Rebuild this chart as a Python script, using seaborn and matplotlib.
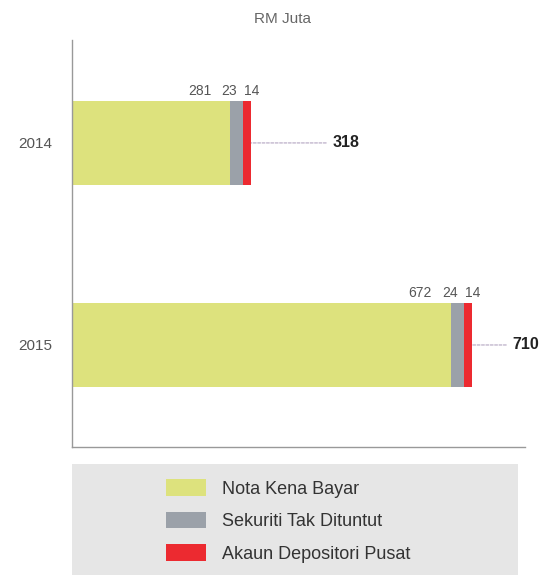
import pandas as pd
import seaborn as sns
from matplotlib import pyplot as plt
from matplotlib.patches import Patch, Rectangle

years = ["2014", "2015"]
nota = [281, 672]
sekuriti = [23, 24]
akaun = [14, 14]
totals = [318, 710]
series_names = ["Nota Kena Bayar", "Sekuriti Tak Dituntut", "Akaun Depositori Pusat"]
colors = ["#dde27d", "#9ba1a9", "#ec2a30"]

sns.set_style("white")
plt.rcParams['font.family'] = ['Liberation Sans', 'DejaVu Sans']

df = pd.DataFrame({'year': years, 'nota': nota, 'sekuriti': sekuriti, 'akaun': akaun})
df['c1'] = df['nota']
df['c2'] = df['nota'] + df['sekuriti']
df['c3'] = df['c2'] + df['akaun']

fig = plt.figure(figsize=(5.41, 5.75), dpi=100)
ax = fig.add_axes([0.133, 0.2226, 0.837, 0.708])

bw = 0.42
# stacked look: draw cumulative totals, biggest first
sns.barplot(data=df, x='c3', y='year', color=colors[2], width=bw, linewidth=0, saturation=1, ax=ax)
sns.barplot(data=df, x='c2', y='year', color=colors[1], width=bw, linewidth=0, saturation=1, ax=ax)
sns.barplot(data=df, x='c1', y='year', color=colors[0], width=bw, linewidth=0, saturation=1, ax=ax)

ax.set_xlim(0, 803)
ax.set_ylim(1.505, -0.51)
ax.set_xlabel('')
ax.set_ylabel('')
ax.set_xticks([])
ax.tick_params(axis='y', length=0, pad=14, labelsize=11, labelcolor='#555555')
sns.despine(ax=ax)
for s in ['left', 'bottom']:
    ax.spines[s].set_color('#999999')
    ax.spines[s].set_linewidth(1.0)

px = 0.72
lab_kw = dict(textcoords='offset points', va='baseline', fontsize=10, color='#555555')
for i, row in df.iterrows():
    top = i - bw / 2
    ax.annotate(str(row['nota']), xy=(row['c1'], top), xytext=(-19 * px, 6 * px), ha='right', **lab_kw)
    ax.annotate(str(row['sekuriti']), xy=((row['c1'] + row['c2']) / 2, top), xytext=(-8 * px, 6 * px), ha='center', **lab_kw)
    ax.annotate(str(row['akaun']), xy=((row['c2'] + row['c3']) / 2, top), xytext=(4 * px, 6 * px), ha='center', **lab_kw)

total_offsets = [81, 40]
for i, (t, off) in enumerate(zip(totals, total_offsets)):
    ax.annotate(str(t), xy=(t, i), xytext=(off * px, 0), textcoords='offset points',
                ha='left', va='center', fontsize=11.5, fontweight='bold', color='#222222',
                arrowprops=dict(arrowstyle='-', linestyle=(0, (3, 1.5)), color='#a898b8',
                                lw=0.7, shrinkA=2, shrinkB=0))

fig.text(282 / 541, 1 - 19 / 575, "RM Juta", ha='center', va='center', fontsize=11, color='#666666')

# legend panel
fig.patches.append(Rectangle((72 / 541, 0), (518 - 72) / 541, (575 - 464) / 575,
                             transform=fig.transFigure, facecolor='#e6e6e6', edgecolor='none', zorder=0))
handles = [Patch(facecolor=c, edgecolor='none') for c in colors]
fig.legend(handles, series_names, loc='upper left', bbox_to_anchor=(166 / 541, 1 - 479 / 575),
           frameon=False, fontsize=13, handlelength=2.2, handleheight=1.05,
           labelspacing=0.78, handletextpad=0.9, borderpad=0, borderaxespad=0,
           labelcolor='#333333')

plt.savefig('out.png', dpi=100)
plt.close()
